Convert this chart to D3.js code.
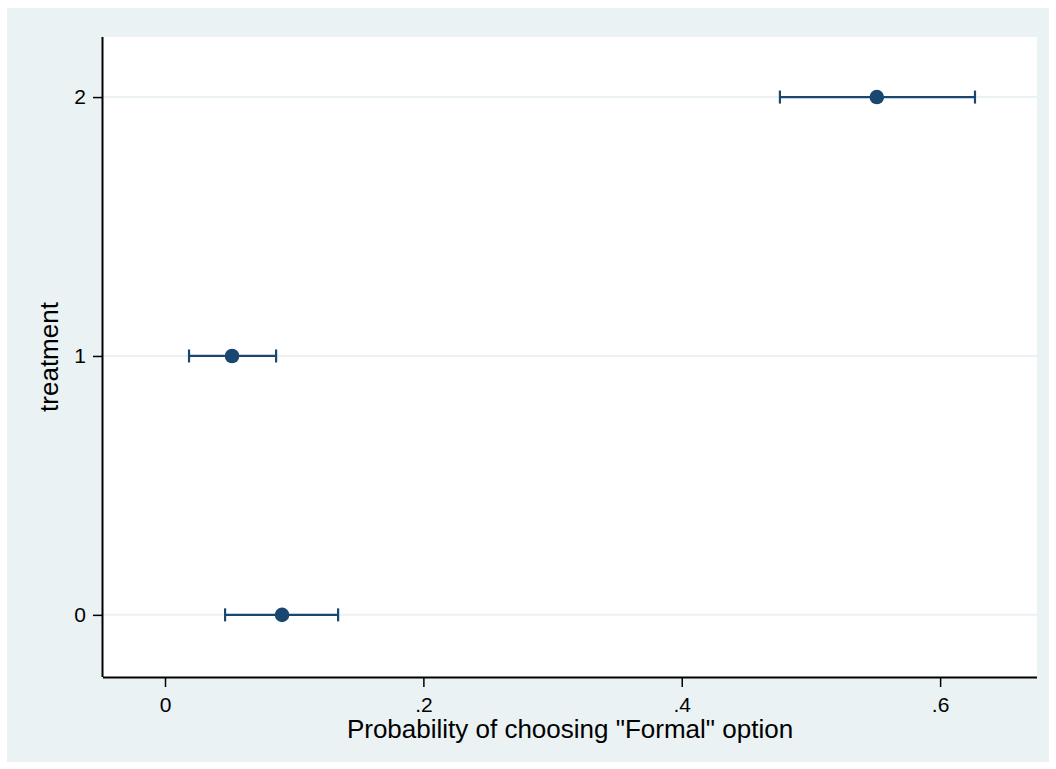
<!DOCTYPE html>
<html><head><meta charset="utf-8">
<script src="https://cdn.jsdelivr.net/npm/d3@7"></script>
<style>body{margin:0;background:#fff}svg{display:block}text{font-family:"Liberation Sans",Arial,sans-serif;fill:#000}</style>
</head><body>
<svg id="c" width="1056" height="769"></svg>
<script>
const treatments = [0, 1, 2];
const estimates = [0.0906, 0.0519, 0.551];
const ciLow = [0.0465, 0.0186, 0.476];
const ciHigh = [0.134, 0.086, 0.627];
const xTicks = [0, 0.2, 0.4, 0.6];
const xTickLabels = ["0", ".2", ".4", ".6"];
const yTicks = [0, 1, 2];
const xTitle = 'Probability of choosing "Formal" option';
const yTitle = "treatment";

const svg = d3.select("#c");
const L = 103, R = 1037, T = 37, B = 677;
const x = d3.scaleLinear().domain([-0.048, 0.675]).range([L, R]);
const y = d3.scaleLinear().domain([-0.24, 2.232]).range([B, T]);
const navy = "#1a476f";

svg.append("rect").attr("x", 7).attr("y", 8).attr("width", 1042).attr("height", 754).attr("fill", "#eaf2f3");
svg.append("rect").attr("x", L).attr("y", T).attr("width", R - L).attr("height", B - T).attr("fill", "#fff");

// gridlines
svg.append("g").selectAll("line").data(yTicks).join("line")
  .attr("x1", L).attr("x2", R).attr("y1", d => y(d)).attr("y2", d => y(d))
  .attr("stroke", "#eaf2f3").attr("stroke-width", 2);

// axes
const xAxis = d3.axisBottom(x).tickValues(xTicks).tickFormat((d, i) => xTickLabels[i]).tickSize(10).tickPadding(10);
const gx = svg.append("g").attr("transform", `translate(0,${B})`).call(xAxis);
gx.attr("font-size", 21).attr("font-family", "Liberation Sans, Arial, sans-serif");
gx.select(".domain").attr("d", `M${L},0.5H${R}`).attr("stroke", "#000").attr("stroke-width", 2);
gx.selectAll(".tick line").attr("stroke", "#000").attr("stroke-width", 1.5);
gx.selectAll(".tick text").attr("fill", "#000");

const yAxis = d3.axisLeft(y).tickValues(yTicks).tickFormat(d3.format("d")).tickSize(10).tickPadding(7);
const gy = svg.append("g").attr("transform", `translate(${L},0)`).call(yAxis);
gy.attr("font-size", 21).attr("font-family", "Liberation Sans, Arial, sans-serif");
gy.select(".domain").attr("d", `M-0.5,${T}V${B}`).attr("stroke", "#000").attr("stroke-width", 2);
gy.selectAll(".tick line").attr("stroke", "#000").attr("stroke-width", 1.5);
gy.selectAll(".tick text").attr("fill", "#000");

// titles
svg.append("text").attr("x", 570).attr("y", 738).attr("text-anchor", "middle")
  .attr("font-size", 26).text(xTitle);
svg.append("text").attr("transform", `translate(58,${(T + B) / 2}) rotate(-90)`).attr("text-anchor", "middle")
  .attr("font-size", 26).text(yTitle);

// CIs
const g = svg.append("g");
const data = treatments.map((t, i) => ({t, e: estimates[i], lo: ciLow[i], hi: ciHigh[i]}));
g.selectAll(".ci").data(data).join("line")
  .attr("x1", d => x(d.lo)).attr("x2", d => x(d.hi)).attr("y1", d => y(d.t)).attr("y2", d => y(d.t))
  .attr("stroke", navy).attr("stroke-width", 2.2);
g.selectAll(".capl").data(data).join("line")
  .attr("x1", d => x(d.lo)).attr("x2", d => x(d.lo)).attr("y1", d => y(d.t) - 6.5).attr("y2", d => y(d.t) + 6.5)
  .attr("stroke", navy).attr("stroke-width", 2.2);
g.selectAll(".caph").data(data).join("line")
  .attr("x1", d => x(d.hi)).attr("x2", d => x(d.hi)).attr("y1", d => y(d.t) - 6.5).attr("y2", d => y(d.t) + 6.5)
  .attr("stroke", navy).attr("stroke-width", 2.2);
g.selectAll("circle").data(data).join("circle")
  .attr("cx", d => x(d.e)).attr("cy", d => y(d.t)).attr("r", 7.3).attr("fill", navy);
</script>
</body></html>
